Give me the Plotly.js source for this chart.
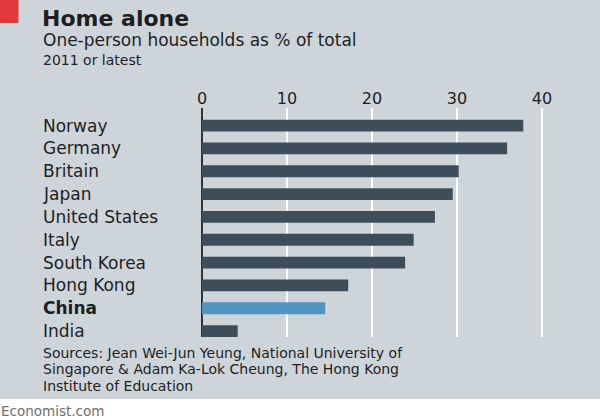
<!DOCTYPE html>
<html>
<head>
<meta charset="utf-8">
<script src="https://cdn.plot.ly/plotly-3.0.1.min.js"></script>
<style>html,body{margin:0;padding:0;background:#ffffff;}#chart{width:600px;height:420px;}</style>
</head>
<body>
<div id="chart"></div>
<script>
const countries = ["Norway","Germany","Britain","Japan","United States","Italy","South Korea","Hong Kong","China","India"];
const shares = [37.8, 35.9, 30.2, 29.5, 27.4, 24.9, 23.9, 17.2, 14.5, 4.2];
const highlight = "China";
const tickValues = [0, 10, 20, 30, 40];
const tickLabels = ["0", "10", "20", "30", "40"];
const titleText = "Home alone";
const subtitleText = "One-person households as % of total";
const noteText = "2011 or latest";
const sourceLines = ["Sources: Jean Wei-Jun Yeung, National University of",
                     "Singapore & Adam Ka-Lok Cheung, The Hong Kong",
                     "Institute of Education"];
const footerText = "Economist.com";

const W = 600, H = 420;
const L = 202, R = 568, T = 108, B = 337;
const px = x => (x - L) / (R - L);
const py = y => (B - y) / (B - T);

const FONT = "DejaVu Sans";
const BG = "#cdd5db";
const DARK = "#3d4e5a";
const HL = "#4f95bf";
const TXT = "#1e1e1e";

const trace = {
  type: "bar",
  orientation: "h",
  x: shares,
  y: countries,
  marker: {color: countries.map(c => c === highlight ? HL : DARK)},
  width: 0.52,
  hoverinfo: "x+y"
};

const annotations = [];
function addText(text, xPix, yPix, size, color, bold) {
  annotations.push({
    xref: "paper", yref: "paper", x: px(xPix), y: py(yPix),
    xanchor: "left", yanchor: "middle", align: "left", showarrow: false,
    text: bold ? "<b>" + text + "</b>" : text,
    font: {family: FONT, size: size, color: color}
  });
}
addText(titleText, 40, 18, 22, TXT, true);
addText(subtitleText, 41, 40, 17, TXT, false);
addText(noteText, 41, 60, 14, TXT, false);
sourceLines.forEach((s, i) => addText(s, 41, 352.5 + i * 16.5, 14, TXT, false));
addText(footerText, -1, 411, 13.5, "#6e6e6e", false);

countries.forEach(c => {
  annotations.push({
    xref: "paper", yref: "y", x: px(41), y: c,
    xanchor: "left", yanchor: "middle", showarrow: false,
    text: c === highlight ? "<b>" + c + "</b>" : c,
    font: {family: FONT, size: 17, color: TXT}
  });
});

const layout = {
  width: W, height: H,
  margin: {l: L, r: W - R, t: T, b: H - B, pad: 0},
  paper_bgcolor: BG,
  plot_bgcolor: BG,
  showlegend: false,
  xaxis: {
    range: [0, (R - L) / 8.5],
    side: "top",
    tickvals: tickValues,
    ticktext: tickLabels,
    ticks: "",
    showgrid: true,
    gridcolor: "#ffffff",
    gridwidth: 2.5,
    zeroline: true,
    zerolinecolor: "#333333",
    zerolinewidth: 2.5,
    showline: false,
    tickfont: {family: FONT, size: 16, color: TXT},
    fixedrange: true
  },
  yaxis: {
    type: "category",
    range: [9.26, -0.77],
    showticklabels: false,
    showgrid: false,
    zeroline: false,
    showline: false,
    ticks: "",
    fixedrange: true
  },
  annotations: annotations,
  shapes: [
    {type: "rect", xref: "paper", yref: "paper", x0: px(0), x1: px(18.5), y0: py(0), y1: py(23),
     fillcolor: "#e03a3c", line: {width: 0}, layer: "above"},
    {type: "rect", xref: "paper", yref: "paper", x0: px(0), x1: px(600), y0: py(399), y1: py(420),
     fillcolor: "#ffffff", line: {width: 0}, layer: "below"}
  ],
  font: {family: FONT}
};

Plotly.newPlot("chart", [trace], layout, {displayModeBar: false, staticPlot: true});
</script>
</body>
</html>
